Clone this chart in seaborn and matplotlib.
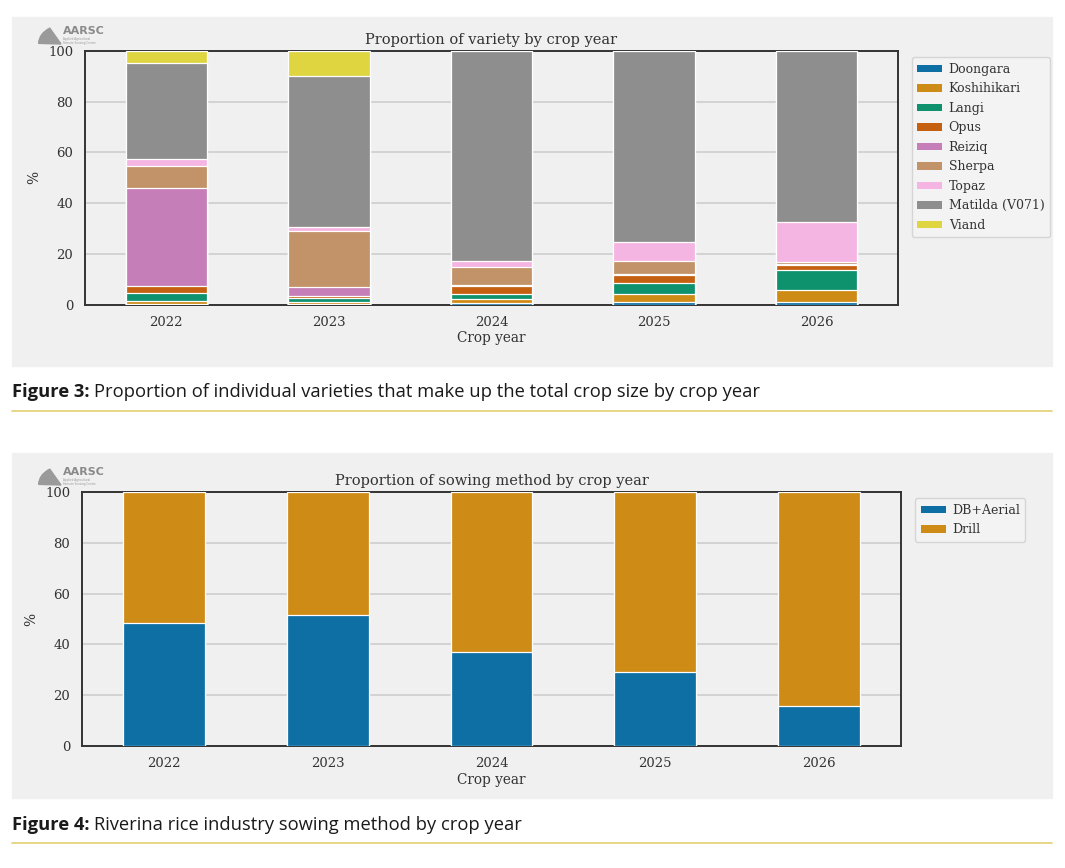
import pandas as pd
import seaborn as sns
import matplotlib.pyplot as plt
from matplotlib.patches import Patch, Rectangle, Wedge
from matplotlib.lines import Line2D

# dados (%)
years = ['2022', '2023', '2024', '2025', '2026']
varieties = ['Doongara', 'Koshihikari', 'Langi', 'Opus', 'Reiziq',
             'Sherpa', 'Topaz', 'Matilda (V071)', 'Viand']
doongara = [0.3, 0.2, 0.4, 0.8, 1.0]
koshihikari = [1.2, 0.6, 1.6, 3.2, 4.8]
langi = [3.2, 1.6, 2.3, 4.4, 8.0]
opus = [2.7, 0.9, 2.9, 3.3, 1.8]
reiziq = [38.4, 3.7, 0.3, 0.3, 0.2]
sherpa = [8.8, 21.9, 7.4, 5.1, 1.0]
topaz = [2.6, 1.8, 2.2, 7.4, 15.8]
matilda = [38.2, 59.4, 82.9, 75.5, 67.4]
viand = [4.6, 9.9, 0.0, 0.0, 0.0]

methods = ['DB+Aerial', 'Drill']
db_aerial = [48.3, 51.6, 37.1, 29.2, 15.7]
drill = [51.7, 48.4, 62.9, 70.8, 84.3]

pal = sns.color_palette('colorblind', desat=0.85)
var_colors = pal[:7] + ['#8e8e8e'] + pal[8:9]
method_colors = pal[:2]

W, H = 1065, 868
BG = '#f0f0f0'


def fx(x):
    return x / W


def fy(y):
    return 1 - y / H


sns.set_style('whitegrid', {
    'axes.facecolor': BG,
    'axes.edgecolor': '#333333',
    'grid.color': '#d0d0d0',
    'axes.grid': True,
})
plt.rcParams['font.family'] = ['DejaVu Serif']
plt.rcParams['text.color'] = '#333333'
plt.rcParams['axes.labelcolor'] = '#333333'
plt.rcParams['xtick.color'] = '#333333'
plt.rcParams['ytick.color'] = '#333333'

fig = plt.figure(figsize=(W / 100, H / 100), dpi=100, facecolor='white')

# paineis cinza de fundo (atrás dos eixos)
for top, bottom in [(17, 366), (453, 798)]:
    fig.patches.append(Rectangle((fx(12), fy(bottom)), (1052 - 12) / W, (bottom - top) / H,
                                 transform=fig.transFigure, color=BG, zorder=-5))

# linhas douradas abaixo das legendas
for y in [411, 843]:
    fig.lines.append(Line2D([fx(12), fx(1052)], [fy(y), fy(y)], transform=fig.transFigure,
                            color='#e3cf72', lw=1.2, zorder=-4))


def stacked(ax, df, order, colors):
    # barras empilhadas: soma acumulada desenhada de cima para baixo
    cum = df[order].cumsum(axis=1)
    for name, c in zip(order[::-1], colors[::-1]):
        sns.barplot(x=df['year'], y=cum[name], color=c, width=0.5, saturation=1,
                    edgecolor='white', linewidth=0.9, ax=ax, zorder=3)
    ax.set_ylim(0, 100)
    ax.set_yticks(range(0, 101, 20))
    ax.grid(axis='x', visible=False)
    ax.grid(axis='y', lw=1.3)
    ax.set_axisbelow(True)
    for s in ax.spines.values():
        s.set_visible(True)
        s.set_linewidth(1.4)
        s.set_color('#333333')
    ax.tick_params(length=0, labelsize=9.5)
    ax.tick_params(axis='y', pad=8.5)
    ax.tick_params(axis='x', pad=8)
    ax.set_xlabel('Crop year', fontsize=9.8, labelpad=2)
    ax.set_ylabel('%', fontsize=10, labelpad=5)
    handles = [Patch(facecolor=c, edgecolor='none') for c in colors]
    ax.legend(handles, order, loc='upper left', bbox_to_anchor=(1.017, 0.976),
              borderaxespad=0, fontsize=9, frameon=True, facecolor='#f3f3f3',
              edgecolor='#d5d5d5', framealpha=1, handlelength=2.0, handleheight=0.55,
              labelspacing=0.52, handletextpad=0.5, borderpad=0.45)


def logo(y0):
    # logotipo AARSC aproximado
    fig.patches.append(Wedge((fx(61), fy(y0 + 17)), 0.021, 120, 178,
                             transform=fig.transFigure, color='#9a9a9a', zorder=2))
    fig.text(fx(63), fy(y0 + 4), 'AARSC', fontsize=8, fontweight='bold', color='#8a8a8a',
             family='DejaVu Sans', va='center')
    fig.text(fx(63), fy(y0 + 14), 'Applied Agricultural\nRemote Sensing Centre',
             fontsize=2.0, color='#9a9a9a', family='DejaVu Sans', va='center', linespacing=1.0)


# FIGURA 3 - variedades
df_var = pd.DataFrame({'year': years, 'Doongara': doongara, 'Koshihikari': koshihikari,
                       'Langi': langi, 'Opus': opus, 'Reiziq': reiziq, 'Sherpa': sherpa,
                       'Topaz': topaz, 'Matilda (V071)': matilda, 'Viand': viand})
ax1 = fig.add_axes([fx(85), fy(304.5), (898 - 85) / W, (304.5 - 51) / H])
stacked(ax1, df_var, varieties, var_colors)
ax1.set_title('Proportion of variety by crop year', fontsize=10.5, pad=5)
logo(27)

# FIGURA 4 - método de semeadura
df_met = pd.DataFrame({'year': years, 'DB+Aerial': db_aerial, 'Drill': drill})
ax2 = fig.add_axes([fx(82), fy(746), (901 - 82) / W, (746 - 492) / H])
stacked(ax2, df_met, methods, method_colors)
ax2.set_title('Proportion of sowing method by crop year', fontsize=10.5, pad=5)
logo(468)

# legendas das figuras
renderer = fig.canvas.get_renderer()
captions = [(392, 'Figure 3:', 'Proportion of individual varieties that make up the total crop size by crop year'),
            (825, 'Figure 4:', 'Riverina rice industry sowing method by crop year')]
for y, bold, rest in captions:
    t = fig.text(fx(12), fy(y), bold, fontsize=13.2, fontweight='bold', family='Open Sans',
                 color='#1a1a1a', va='center')
    bb = t.get_window_extent(renderer)
    fig.text(bb.x1 / W + fx(5), fy(y), rest, fontsize=13.2, family='Open Sans',
             color='#1a1a1a', va='center')

fig.savefig('out.png', dpi=100, facecolor='white')
